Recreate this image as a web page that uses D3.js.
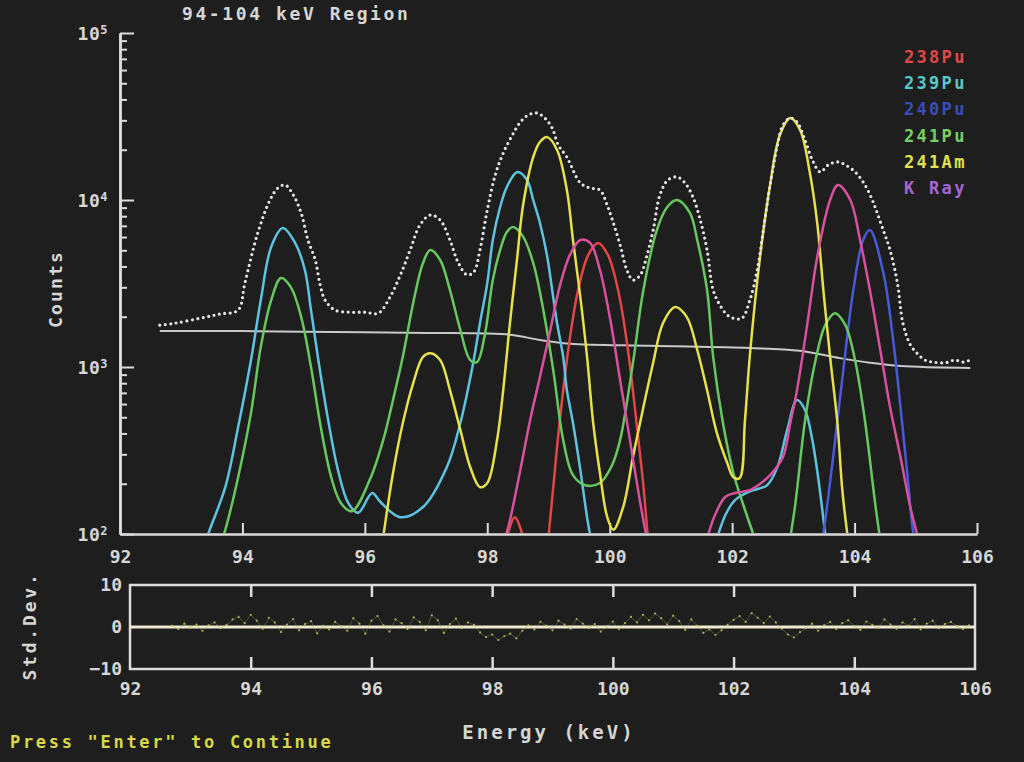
<!DOCTYPE html>
<html><head><meta charset="utf-8">
<script src="https://cdn.jsdelivr.net/npm/d3@7"></script>
<style>
html,body{margin:0;padding:0;background:#1e1e1e;}
svg{display:block;}
text{font-family:"DejaVu Sans Mono","Liberation Mono",monospace;}
</style></head><body>
<svg id="chart" width="1024" height="762"></svg>
<script>
// ---------------- data ----------------
const titleText = "94-104 keV Region";
const xTickValues = [92, 94, 96, 98, 100, 102, 104, 106];
const yMajorTicks = [1e2, 1e3, 1e4, 1e5];
const resTickValues = [10, 0, -10];
const legendNames = ["238Pu", "239Pu", "240Pu", "241Pu", "241Am", "K Ray"];

// [energy keV, counts]; null = break in the curve
const pu238 = [[98.29,86],[98.45,126],[98.62,86],null,
  [98.99,88],[99.08,194],[99.16,392],[99.32,1247],[99.48,2850],[99.65,4690],[99.81,5530],
  [99.97,4690],[100.14,2850],[100.30,1247],[100.46,392],[100.55,194],[100.63,88]];

const pu239 = [[93.30,70],[93.44,100],[93.72,191],[93.93,437],[94.14,1101],[94.30,2518],[94.47,5240],
  [94.66,6790],[94.86,5530],[95.02,3808],[95.12,2193],[95.24,1101],[95.40,482],[95.56,242],
  [95.73,153],[95.89,134],[96.12,176],[96.25,156],[96.58,126],[96.95,145],[97.34,252],[97.56,462],
  [97.77,1060],[97.88,1830],[98.00,3180],[98.09,5759],[98.21,9080],[98.32,11970],[98.49,14720],
  [98.65,13180],[98.75,10000],[98.86,7280],[98.98,4560],[99.06,2890],[99.14,1830],[99.24,1150],
  [99.30,728],[99.40,462],[99.52,242],[99.63,126],[99.71,86],null,
  [101.72,86],[101.89,130],[102.05,160],[102.29,180],[102.57,196],[102.74,252],[102.90,420],
  [103.06,635],[103.19,553],[103.31,366],[103.41,211],[103.52,100],[103.57,70]];

const pu240 = [[103.41,70],[103.49,101],[103.65,289],[103.81,920],[103.98,2890],[104.14,5759],
  [104.25,6610],[104.47,3660],[104.63,1451],[104.75,575],[104.86,232],[104.96,101],[105.05,70]];

const pu241 = [[93.55,70],[93.72,106],[93.93,219],[94.14,531],[94.30,1320],[94.47,2518],[94.63,3410],
  [94.79,3010],[94.96,1990],[95.12,1000],[95.28,437],[95.45,219],[95.61,153],[95.79,137],
  [96.08,211],[96.30,366],[96.46,635],[96.62,1150],[96.79,2420],[96.95,4200],[97.07,5017],
  [97.23,4371],[97.39,2890],[97.56,1666],[97.72,1101],[97.83,1070],[97.96,1560],[98.09,3318],
  [98.21,5017],[98.32,6430],[98.42,6890],[98.58,6080],[98.75,4200],[98.91,2250],[99.08,945],
  [99.24,366],[99.40,225],[99.60,196],[99.84,202],[100.04,259],[100.17,366],[100.38,1060],
  [100.55,2890],[100.77,6610],[100.94,9080],[101.10,10000],[101.31,8360],[101.43,5759],
  [101.59,2890],[101.69,1150],[101.85,462],[102.02,232],[102.25,126],[102.34,101],[102.42,80],null,
  [102.93,86],[103.03,149],[103.19,475],[103.36,1087],[103.52,1780],[103.68,2100],[103.85,1780],
  [104.01,1090],[104.17,475],[104.34,149],[104.43,86]];

const am241 = [[96.25,70],[96.30,96],[96.46,232],[96.62,462],[96.79,802],[96.95,1150],[97.07,1210],
  [97.23,1101],[97.39,728],[97.56,420],[97.72,252],[97.88,191],[98.00,202],[98.16,366],[98.26,728],
  [98.37,1830],[98.49,4560],[98.58,9080],[98.75,18060],[98.86,22230],[98.98,23800],[99.14,19930],
  [99.30,11480],[99.40,5759],[99.52,2620],[99.63,1150],[99.73,462],[99.84,232],[99.96,126],
  [100.06,106],[100.22,145],[100.38,289],[100.55,575],[100.71,1060],[100.87,1830],[101.07,2290],
  [101.26,1990],[101.43,1264],[101.59,728],[101.75,403],[101.92,266],[102.02,219],[102.12,216],
  [102.21,482],[102.29,1180],[102.46,4690],[102.62,12300],[102.78,24490],[102.95,30960],
  [103.11,26260],[103.27,14520],[103.39,7280],[103.49,2890],[103.60,1150],[103.72,462],
  [103.80,183],[103.88,101],[103.93,75]];

const kRay = [[98.26,86],[98.37,121],[98.54,242],[98.70,482],[98.86,871],[99.03,1666],[99.19,3100],
  [99.35,4690],[99.52,5759],[99.68,5530],[99.84,3808],[100.01,1911],[100.17,836],[100.33,366],
  [100.49,160],[100.61,92],null,
  [101.56,86],[101.72,130],[101.89,167],[102.05,176],[102.29,183],[102.46,200],[102.62,225],
  [102.83,289],[102.95,462],[103.06,728],[103.23,1830],[103.39,4560],[103.60,10000],
  [103.73,12300],[103.93,10000],[104.09,5759],[104.25,2890],[104.42,1264],[104.58,575],
  [104.75,289],[104.91,145],[105.02,100],[105.10,75]];

const measured = [[92.65,1780],[92.90,1830],[93.31,1960],[93.63,2075],[93.93,2193],[94.04,3180],
  [94.25,6340],[94.45,10000],[94.58,11800],[94.70,12300],[94.83,10720],[94.96,8360],[95.07,5759],
  [95.19,4371],[95.27,3100],[95.35,2518],[95.51,2193],[95.76,2130],[96.00,2130],[96.22,2100],
  [96.41,2620],[96.58,3560],[96.74,5017],[96.90,7080],[97.07,8130],[97.23,7588],[97.39,5759],
  [97.52,4260],[97.67,3560],[97.78,3710],[97.88,5017],[98.00,8710],[98.13,14130],[98.26,19100],
  [98.41,24490],[98.54,29300],[98.67,32300],[98.81,33200],[98.94,30960],[99.06,27000],
  [99.16,21330],[99.30,18060],[99.52,12650],[99.68,11800],[99.84,11480],[99.96,9290],
  [100.06,7280],[100.17,5380],[100.28,3808],[100.38,3318],[100.50,3560],[100.61,4690],
  [100.71,6610],[100.82,10720],[100.95,13180],[101.10,13750],[101.23,12650],[101.36,10420],
  [101.48,7588],[101.59,5017],[101.69,2890],[101.80,2350],[101.92,2050],[102.02,1960],
  [102.16,1960],[102.29,2518],[102.41,3808],[102.51,6610],[102.62,12300],[102.74,21330],
  [102.83,28100],[102.95,30960],[103.06,29300],[103.19,22880],[103.31,17360],[103.44,14720],
  [103.57,16220],[103.72,16900],[103.85,16220],[104.01,14720],[104.17,12300],[104.29,10000],
  [104.37,8360],[104.48,6430],[104.58,5017],[104.70,3180],[104.79,1830],[104.91,1360],
  [105.02,1210],[105.15,1101],[105.28,1070],[105.48,1060],[105.64,1101],[105.77,1070],[105.89,1101]];

const continuum = [[92.65,1640],[94.00,1640],[95.50,1620],[97.00,1600],[98.37,1560],[98.86,1451],
  [99.35,1380],[100.66,1340],[102.29,1300],[103.11,1250],[103.76,1130],[104.25,1060],
  [104.75,1014],[105.89,986]];

// residuals (std. dev.), one per 0.1 keV channel starting at 92.7 keV
const resStart = 92.7, resStep = 0.1;
const residuals = [0.3,-0.5,0.8,-0.2,0.6,-0.9,0.4,1.1,-0.3,0.5,
  1.8,2.4,0.9,2.9,1.5,-0.4,2.2,1.1,-1.2,0.6,
  1.9,-0.8,0.7,1.4,-1.5,0.3,-0.6,1.2,0.2,-0.9,
  2.1,0.8,-1.6,1.5,2.6,0.4,-1.1,1.8,0.9,-0.5,
  2.3,1.2,-0.8,2.8,1.6,-1.4,0.7,2.0,-0.3,1.1,
  0.5,-1.3,-2.4,-1.8,-3.1,-2.2,-1.6,-2.7,-0.9,0.4,
  -0.6,1.2,0.3,-0.8,1.5,0.6,-0.4,1.9,0.8,-0.2,
  0.7,-1.1,0.2,1.3,-0.5,0.9,2.4,1.1,2.9,1.6,
  3.2,2.1,0.6,2.7,1.4,-0.7,1.8,0.3,-1.4,-0.6,
  -1.9,-0.8,0.5,1.7,2.6,1.2,3.3,2.2,0.9,2.5,
  1.1,-0.4,-1.8,-2.5,-1.2,-0.3,0.8,-0.9,0.4,1.2,
  -0.5,0.9,1.6,0.2,-0.7,1.3,0.5,-0.2,1.8,0.6,
  -0.4,1.1,0.3,1.9,-0.6,0.8,1.5,-0.3,0.7,1.2,
  0.2,-0.5,0.4];

// ---------------- styles ----------------
const series = [
  {name:"238Pu", data:pu238, color:"#e24646", legend:"#e04848"},
  {name:"239Pu", data:pu239, color:"#5cc4e0", legend:"#56c8cc"},
  {name:"240Pu", data:pu240, color:"#4a5ad8", legend:"#3a4cb8"},
  {name:"241Pu", data:pu241, color:"#66c85e", legend:"#78d064"},
  {name:"241Am", data:am241, color:"#e6e04c", legend:"#e2e04e"},
  {name:"K Ray", data:kRay,  color:"#d8509e", legend:"#a466d4"}
];
const axisColor = "#dcdcdc", textColor = "#d6d6d6";

const svg = d3.select("#chart");
svg.append("rect").attr("width",1024).attr("height",762).attr("fill","#1e1e1e");

const x = d3.scaleLinear().domain([92,106]).range([120,977]);
const y = d3.scaleLog().domain([100,1e5]).range([534,33]);
const xr = d3.scaleLinear().domain([92,106]).range([130,975]);
const yr = d3.scaleLinear().domain([-10,10]).range([669,585]);

function styleText(sel, size, spacing, color){
  sel.attr("font-size",size).attr("letter-spacing",spacing).attr("fill",color||textColor)
     .attr("font-weight","bold")
     .attr("font-family",'"DejaVu Sans Mono","Liberation Mono",monospace');
}

// clip for main plot
svg.append("clipPath").attr("id","clipMain").append("rect")
  .attr("x",121).attr("y",30).attr("width",858).attr("height",503);

// ---- main axes ----
const gyMinor = svg.append("g").attr("transform","translate(120,0)")
  .call(d3.axisRight(y).tickValues(
     d3.merge([1e2,1e3,1e4].map(b=>[2,3,4,5,6,7,8,9].map(m=>b*m))))
     .tickSize(7).tickFormat("").tickSizeOuter(0));
const gyMajor = svg.append("g").attr("transform","translate(120,0)")
  .call(d3.axisRight(y).tickValues(yMajorTicks).tickSize(14).tickFormat("").tickSizeOuter(0));
[gyMinor,gyMajor].forEach(g=>{
  g.select(".domain").attr("stroke",axisColor).attr("stroke-width",2.5);
  g.selectAll(".tick line").attr("stroke",axisColor).attr("stroke-width",2);
});
// y labels 10^n
const gyLab = svg.append("g").attr("transform","translate(120,0)")
  .call(d3.axisLeft(y).tickValues(yMajorTicks).tickSize(0).tickFormat(""));
gyLab.select(".domain").remove();
gyLab.selectAll(".tick").each(function(d){
  const t = d3.select(this).select("text");
  t.attr("x",-12).attr("dy","0.38em").attr("text-anchor","end");
  styleText(t,18,0.5);
  t.append("tspan").text("10");
  t.append("tspan").attr("dy","-0.55em").attr("font-size",12).text(Math.round(Math.log10(d)));
});

const gx = svg.append("g").attr("transform","translate(0,534)")
  .call(d3.axisTop(x).tickValues(xTickValues.slice(1)).tickSize(11).tickFormat("").tickSizeOuter(0));
gx.select(".domain").attr("stroke",axisColor).attr("stroke-width",2.5);
gx.selectAll(".tick line").attr("stroke",axisColor).attr("stroke-width",2);
const gxLab = svg.append("g").attr("transform","translate(0,534)")
  .call(d3.axisBottom(x).tickValues(xTickValues).tickSize(0).tickPadding(16).tickFormat(d3.format("d")));
gxLab.select(".domain").remove();
styleText(gxLab.selectAll("text"),18,0);

// ---- curves ----
const line = d3.line().defined(d=>d!==null).x(d=>x(d[0])).y(d=>y(d[1]))
  .curve(d3.curveCatmullRom.alpha(0.5));
const plot = svg.append("g").attr("clip-path","url(#clipMain)");
plot.append("path").datum(continuum).attr("d",line)
  .attr("fill","none").attr("stroke","#c8c8c8").attr("stroke-width",2);
series.forEach(s=>{
  plot.append("path").datum(s.data).attr("d",line)
    .attr("fill","none").attr("stroke",s.color).attr("stroke-width",2.5);
});
plot.append("path").datum(measured).attr("d",line)
  .attr("fill","none").attr("stroke","#e4e4e4").attr("stroke-width",3.2)
  .attr("stroke-linecap","round").attr("stroke-dasharray","0,5.5");

// ---- title & legend ----
styleText(svg.append("text").attr("x",182).attr("y",20).text(titleText),18,2.6);
const leg = svg.append("g");
series.forEach((s,i)=>{
  styleText(leg.append("text").attr("x",904).attr("y",63+i*26.2).text(s.name),17,2.3,s.legend);
});
styleText(svg.append("text").attr("transform","translate(62,289) rotate(-90)")
  .attr("text-anchor","middle").text("Counts"),18,2.2);

// ---- residual panel ----
svg.append("rect").attr("x",xr(92)).attr("y",yr(10)).attr("width",xr(106)-xr(92))
  .attr("height",yr(-10)-yr(10)).attr("fill","none").attr("stroke",axisColor).attr("stroke-width",2.5);
const gRt = svg.append("g").attr("transform",`translate(0,${yr(10)})`)
  .call(d3.axisBottom(xr).tickValues(xTickValues.slice(1,-1)).tickSize(12).tickFormat("").tickSizeOuter(0));
const gRb = svg.append("g").attr("transform",`translate(0,${yr(-10)})`)
  .call(d3.axisTop(xr).tickValues(xTickValues.slice(1,-1)).tickSize(12).tickFormat("").tickSizeOuter(0));
[gRt,gRb].forEach(g=>{g.select(".domain").remove();
  g.selectAll(".tick line").attr("stroke",axisColor).attr("stroke-width",2.5);});
svg.append("line").attr("x1",xr(92)).attr("x2",xr(106)).attr("y1",yr(0)).attr("y2",yr(0))
  .attr("stroke","#ecead0").attr("stroke-width",3);
const resPts = residuals.map((v,i)=>[resStart+i*resStep, v]);
const rline = d3.line().x(d=>xr(d[0])).y(d=>yr(d[1]));
svg.append("path").datum(resPts).attr("d",rline).attr("fill","none")
  .attr("stroke","#a8b440").attr("stroke-width",1).attr("stroke-opacity",0.35);
svg.append("g").selectAll("circle").data(resPts).join("circle")
  .attr("cx",d=>xr(d[0])).attr("cy",d=>yr(d[1])).attr("r",1.1).attr("fill","#c8d060").attr("fill-opacity",0.8);

const gRy = svg.append("g").attr("transform",`translate(${xr(92)},0)`)
  .call(d3.axisLeft(yr).tickValues(resTickValues).tickSize(0).tickPadding(8).tickFormat(d3.format("d")));
gRy.select(".domain").remove();
styleText(gRy.selectAll("text"),18,0);
const gRx = svg.append("g").attr("transform",`translate(0,${yr(-10)})`)
  .call(d3.axisBottom(xr).tickValues(xTickValues).tickSize(0).tickPadding(13).tickFormat(d3.format("d")));
gRx.select(".domain").remove();
styleText(gRx.selectAll("text"),18,0);

styleText(svg.append("text").attr("transform","translate(36,626) rotate(-90)")
  .attr("text-anchor","middle").text("Std.Dev."),18,2.8);
styleText(svg.append("text").attr("x",549).attr("y",739).attr("text-anchor","middle")
  .text("Energy (keV)"),19,3.0);
styleText(svg.append("text").attr("x",10).attr("y",748)
  .text('Press "Enter" to Continue'),17,2.7,"#d8d846");
</script>
</body></html>
